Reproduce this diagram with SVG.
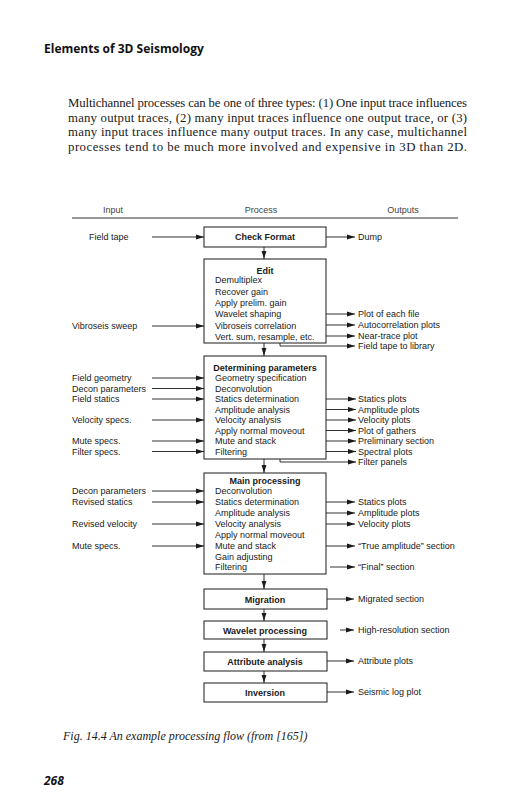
<svg xmlns="http://www.w3.org/2000/svg" width="531" height="800" viewBox="0 0 531 800">
<defs>
<marker id="ah" markerWidth="8" markerHeight="6" refX="8" refY="3" orient="auto" markerUnits="userSpaceOnUse">
<path d="M0,0.6 L8,3 L0,5.4 Z" fill="#1a1a1a"/>
</marker>
<style>
.pg{font-family:"Liberation Serif","Times New Roman",serif;font-size:12.8px;fill:#1a1a1a}
.hd{font-family:"Open Sans","Liberation Sans",sans-serif;font-weight:bold;font-size:12px;fill:#111}
.d{font-family:"Liberation Sans",Arial,sans-serif;font-size:9px;fill:#1a1a1a}
.lb{font-family:"Liberation Sans",Arial,sans-serif;font-size:9px;fill:#444}
.b{font-family:"Liberation Sans",Arial,sans-serif;font-size:9px;font-weight:bold;fill:#1a1a1a}
.box{fill:#fff;stroke:#1a1a1a;stroke-width:1}
.c{stroke:#1a1a1a;stroke-width:0.9;fill:none}
.a{stroke:#1a1a1a;stroke-width:0.9;fill:none;marker-end:url(#ah)}
.cap{font-family:"Liberation Serif","Times New Roman",serif;font-style:italic;font-size:12px;fill:#1a1a1a}
</style>
</defs>
<rect width="531" height="800" fill="#fff"/>
<text class="hd" x="44" y="53">Elements of 3D Seismology</text>
<g id="paragraph">
<text class="pg" x="68" y="107" textLength="399" lengthAdjust="spacing">Multichannel processes can be one of three types: (1) One input trace influences</text>
<text class="pg" x="68" y="122" textLength="399" lengthAdjust="spacing">many output traces, (2) many input traces influence one output trace, or (3)</text>
<text class="pg" x="68" y="136" textLength="399" lengthAdjust="spacing">many input traces influence many output traces. In any case, multichannel</text>
<text class="pg" x="68" y="151" textLength="399" lengthAdjust="spacing">processes tend to be much more involved and expensive in 3D than 2D.</text>
</g>
<g id="header">
<text class="lb" x="113" y="213" text-anchor="middle">Input</text>
<text class="lb" x="261" y="213" text-anchor="middle">Process</text>
<text class="lb" x="403" y="213" text-anchor="middle">Outputs</text>
<line class="c" x1="72" y1="218" x2="458" y2="218"/>
</g>
<g id="connectors">
<line class="a" x1="152" y1="237" x2="204" y2="237"/>
<line class="a" x1="326" y1="237" x2="355" y2="237"/>
<line class="a" x1="264" y1="247" x2="264" y2="259"/>
<line class="a" x1="152" y1="326" x2="204" y2="326"/>
<line class="a" x1="326" y1="314" x2="355" y2="314"/>
<line class="a" x1="326" y1="325" x2="355" y2="325"/>
<line class="a" x1="326" y1="336" x2="355" y2="336"/>
<path class="a" d="M280,343 V346 H355"/>
<line class="a" x1="264" y1="343" x2="264" y2="356"/>
<line class="a" x1="152" y1="378" x2="204" y2="378"/>
<line class="a" x1="152" y1="388.5" x2="204" y2="388.5"/>
<line class="a" x1="152" y1="399" x2="204" y2="399"/>
<line class="a" x1="152" y1="420" x2="204" y2="420"/>
<line class="a" x1="152" y1="441" x2="204" y2="441"/>
<line class="a" x1="152" y1="451.5" x2="204" y2="451.5"/>
<line class="a" x1="326" y1="399" x2="356" y2="399"/>
<line class="a" x1="326" y1="409.5" x2="356" y2="409.5"/>
<line class="a" x1="326" y1="420" x2="356" y2="420"/>
<line class="a" x1="326" y1="430.5" x2="356" y2="430.5"/>
<line class="a" x1="326" y1="441" x2="356" y2="441"/>
<line class="a" x1="326" y1="451.5" x2="356" y2="451.5"/>
<path class="a" d="M280,459 V462 H356"/>
<line class="a" x1="264" y1="459" x2="264" y2="473"/>
<line class="a" x1="152" y1="491" x2="204" y2="491"/>
<line class="a" x1="152" y1="502" x2="204" y2="502"/>
<line class="a" x1="152" y1="524" x2="204" y2="524"/>
<line class="a" x1="152" y1="546" x2="204" y2="546"/>
<line class="a" x1="326" y1="502" x2="355" y2="502"/>
<line class="a" x1="326" y1="513" x2="355" y2="513"/>
<line class="a" x1="326" y1="524" x2="355" y2="524"/>
<line class="a" x1="326" y1="546" x2="355" y2="546"/>
<line class="a" x1="330" y1="567" x2="355" y2="567"/>
<line class="a" x1="264" y1="574" x2="264" y2="589"/>
<line class="a" x1="327" y1="599" x2="354" y2="599"/>
<line class="a" x1="264" y1="609" x2="264" y2="621"/>
<line class="a" x1="340" y1="630" x2="354" y2="630"/>
<line class="a" x1="264" y1="639" x2="264" y2="652"/>
<line class="a" x1="327" y1="661" x2="354" y2="661"/>
<line class="a" x1="264" y1="671" x2="264" y2="683"/>
<line class="a" x1="327" y1="692" x2="354" y2="692"/>
</g>
<g id="inputs">
<text class="d" x="89" y="240">Field tape</text>
<text class="d" x="72" y="329">Vibroseis sweep</text>
<text class="d" x="72" y="381">Field geometry</text>
<text class="d" x="72" y="391.5">Decon parameters</text>
<text class="d" x="72" y="402">Field statics</text>
<text class="d" x="72" y="423">Velocity specs.</text>
<text class="d" x="72" y="444">Mute specs.</text>
<text class="d" x="72" y="454.5">Filter specs.</text>
<text class="d" x="72" y="494">Decon parameters</text>
<text class="d" x="72" y="505">Revised statics</text>
<text class="d" x="72" y="527">Revised velocity</text>
<text class="d" x="72" y="549">Mute specs.</text>
</g>
<g id="outputs">
<text class="d" x="358" y="240">Dump</text>
<text class="d" x="358" y="317">Plot of each file</text>
<text class="d" x="358" y="328">Autocorrelation plots</text>
<text class="d" x="358" y="339">Near-trace plot</text>
<text class="d" x="358" y="349">Field tape to library</text>
<text class="d" x="358" y="402">Statics plots</text>
<text class="d" x="358" y="412.5">Amplitude plots</text>
<text class="d" x="358" y="423">Velocity plots</text>
<text class="d" x="358" y="433.5">Plot of gathers</text>
<text class="d" x="358" y="444">Preliminary section</text>
<text class="d" x="358" y="454.5">Spectral plots</text>
<text class="d" x="358" y="465">Filter panels</text>
<text class="d" x="358" y="505">Statics plots</text>
<text class="d" x="358" y="516">Amplitude plots</text>
<text class="d" x="358" y="527">Velocity plots</text>
<text class="d" x="358" y="549">“True amplitude” section</text>
<text class="d" x="358" y="570">“Final” section</text>
<text class="d" x="358" y="602">Migrated section</text>
<text class="d" x="358" y="633">High-resolution section</text>
<text class="d" x="358" y="664">Attribute plots</text>
<text class="d" x="358" y="695">Seismic log plot</text>
</g>
<g id="check-format">
<rect class="box" x="204" y="227" width="122" height="20"/>
<text class="b" x="265" y="240" text-anchor="middle">Check Format</text>
</g>
<g id="edit">
<rect class="box" x="204" y="259" width="122" height="84"/>
<text class="b" x="265" y="274" text-anchor="middle">Edit</text>
<text class="d" x="215" y="283">Demultiplex</text>
<text class="d" x="215" y="295">Recover gain</text>
<text class="d" x="215" y="306">Apply prelim. gain</text>
<text class="d" x="215" y="317">Wavelet shaping</text>
<text class="d" x="215" y="329">Vibroseis correlation</text>
<text class="d" x="215" y="340">Vert. sum, resample, etc.</text>
</g>
<g id="determining-parameters">
<rect class="box" x="204" y="356" width="122" height="103"/>
<text class="b" x="265" y="370.5" text-anchor="middle">Determining parameters</text>
<text class="d" x="215" y="381">Geometry specification</text>
<text class="d" x="215" y="391.5">Deconvolution</text>
<text class="d" x="215" y="402">Statics determination</text>
<text class="d" x="215" y="412.5">Amplitude analysis</text>
<text class="d" x="215" y="423">Velocity analysis</text>
<text class="d" x="215" y="433.5">Apply normal moveout</text>
<text class="d" x="215" y="444">Mute and stack</text>
<text class="d" x="215" y="454.5">Filtering</text>
</g>
<g id="main-processing">
<rect class="box" x="204" y="473" width="122" height="101"/>
<text class="b" x="265" y="484" text-anchor="middle">Main processing</text>
<text class="d" x="215" y="494">Deconvolution</text>
<text class="d" x="215" y="505">Statics determination</text>
<text class="d" x="215" y="516">Amplitude analysis</text>
<text class="d" x="215" y="527">Velocity analysis</text>
<text class="d" x="215" y="538">Apply normal moveout</text>
<text class="d" x="215" y="549">Mute and stack</text>
<text class="d" x="215" y="560">Gain adjusting</text>
<text class="d" x="215" y="570">Filtering</text>
</g>
<g id="migration">
<rect class="box" x="204" y="589" width="123" height="20"/>
<text class="b" x="265" y="602.5" text-anchor="middle">Migration</text>
</g>
<g id="wavelet-processing">
<rect class="box" x="204" y="621" width="123" height="18"/>
<text class="b" x="265" y="633.5" text-anchor="middle">Wavelet processing</text>
</g>
<g id="attribute-analysis">
<rect class="box" x="204" y="652" width="123" height="19"/>
<text class="b" x="265" y="664.5" text-anchor="middle">Attribute analysis</text>
</g>
<g id="inversion">
<rect class="box" x="204" y="683" width="123" height="19"/>
<text class="b" x="265" y="695.5" text-anchor="middle">Inversion</text>
</g>
<text class="cap" x="63" y="740">Fig. 14.4 An example processing flow (from [165])</text>
<text class="hd" x="44" y="785" font-style="italic">268</text>
</svg>
